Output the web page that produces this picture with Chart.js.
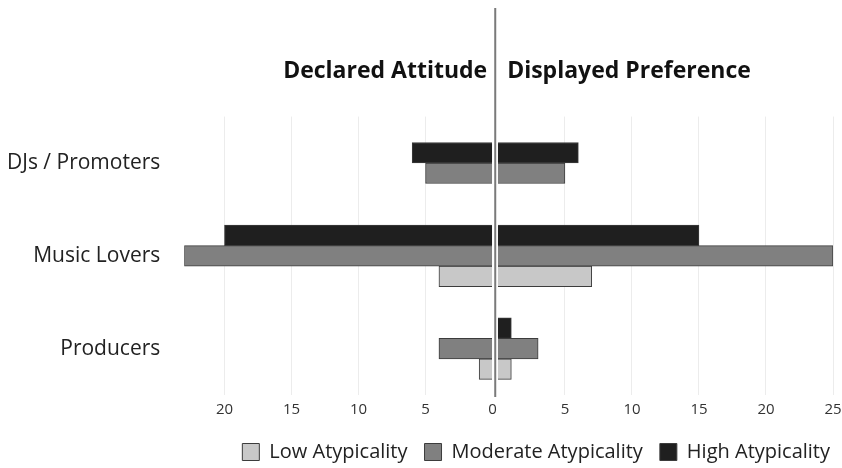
<!DOCTYPE html>
<html lang="en">
<head>
  <meta charset="UTF-8" />
  <title>Declared Attitude vs Displayed Preference</title>
  <script src="https://cdn.jsdelivr.net/npm/chart.js"></script>
  <style>
    html, body { margin: 0; background: #fff; }
    #wrap { width: 842px; height: 468px; }
  </style>
</head>
<body>
  <div id="wrap"><canvas id="grafico"></canvas></div>
  <script>
    // categories and values (left = declared, right = displayed)
    const categories = ["DJs / Promoters", "Music Lovers", "Producers"];
    const levels = ["High Atypicality", "Moderate Atypicality", "Low Atypicality"];
    const declaredHigh = [6, 20, null];
    const declaredModerate = [5, 23, 4];
    const declaredLow = [null, 4, 1];
    const displayedHigh = [6, 15, 1];
    const displayedModerate = [5, 25, 3];
    const displayedLow = [null, 7, 1];
    const leftTicks = [0, 5, 10, 15, 20];
    const rightTicks = [5, 10, 15, 20, 25];
    const leftMax = 23;
    const rightMax = 25;

    const gap = 0.2;
    const fills = ["#1f1f1f", "#808080", "#c8c8c8"];
    const stacks = ["h", "m", "l"];

    Chart.defaults.font.family = "'Open Sans', sans-serif";

    const declared = [declaredHigh, declaredModerate, declaredLow];
    const displayed = [displayedHigh, displayedModerate, displayedLow];

    // displayed first: it has a value in every bar slot, so slot order stays high / moderate / low
    const datasets = [];
    displayed.forEach((d, i) => datasets.push({
      label: levels[i], data: d, xAxisID: "xR", stack: stacks[i],
      backgroundColor: fills[i], borderColor: "#3c3c3c", borderWidth: 1
    }));
    declared.forEach((d, i) => datasets.push({
      label: levels[i], data: d, xAxisID: "xL", stack: stacks[i],
      backgroundColor: fills[i], borderColor: "#3c3c3c", borderWidth: 1
    }));

    const gridColor = (c) => (c.tick && c.tick.value === 0 ? "rgba(0,0,0,0)" : "#ececec");

    const valueAxis = (ticks, max, reverse) => ({
      type: "linear", axis: "x", position: "bottom", stack: "bottom",
      stackWeight: max + gap, reverse: reverse, min: -gap, max: max, stacked: false,
      afterBuildTicks: (s) => { s.ticks = ticks.map(v => ({ value: v })); },
      // fixed side room so the plot edge does not depend on the last label
      afterFit: (s) => { s.paddingLeft = 0; s.paddingRight = reverse ? 0 : 9; },
      grid: { color: gridColor, drawTicks: false, tickLength: 0 },
      border: { display: false },
      ticks: { color: "#333", font: { size: 15 }, padding: 6 }
    });

    const titleAxis = (text, align, weight) => ({
      type: "linear", axis: "x", position: "top", stack: "top", stackWeight: weight,
      grid: { display: false, drawTicks: false, tickLength: 0 },
      border: { display: false }, ticks: { display: false },
      title: {
        display: !!text, text: text, align: align, color: "#111",
        font: { size: 23, weight: "bold" }, padding: { top: 58, bottom: 31 }
      }
    });

    const centerLine = {
      id: "centerLine",
      afterDatasetsDraw(chart) {
        const { ctx, scales, chartArea } = chart;
        const x = (scales.xL.getPixelForValue(0) + scales.xR.getPixelForValue(0)) / 2;
        ctx.save();
        ctx.strokeStyle = "#7a7a7a";
        ctx.lineWidth = 2;
        ctx.beginPath();
        ctx.moveTo(x, 8);
        ctx.lineTo(x, chartArea.bottom + 2);
        ctx.stroke();
        ctx.restore();
      }
    };

    new Chart(document.getElementById("grafico"), {
      type: "bar",
      data: { labels: categories, datasets: datasets },
      options: {
        indexAxis: "y",
        responsive: true,
        maintainAspectRatio: false,
        animation: false,
        skipNull: true,
        barThickness: 20.5,
        layout: { padding: { left: -9, right: -5, top: 0, bottom: -4 } },
        scales: {
          y: {
            grid: { display: false }, border: { display: false },
            ticks: { color: "#222", font: { size: 21 }, padding: 16 }
          },
          xL: valueAxis(leftTicks, leftMax, true),
          xR: valueAxis(rightTicks, rightMax, false),
          // top boxes are laid out right to left
          tR: titleAxis("Displayed Preference", "start", 326),
          tGap: titleAxis("", "center", 20),
          tL: titleAxis("Declared Attitude", "end", 303)
        },
        plugins: {
          title: { display: false },
          tooltip: { enabled: false },
          legend: {
            position: "bottom", align: "end", reverse: true,
            labels: {
              boxWidth: 17, boxHeight: 17, padding: 17, color: "#222",
              font: { size: 20, lineHeight: 1 },
              filter: (item) => item.datasetIndex < 3
            }
          }
        }
      },
      plugins: [centerLine]
    });
  </script>
</body>
</html>
